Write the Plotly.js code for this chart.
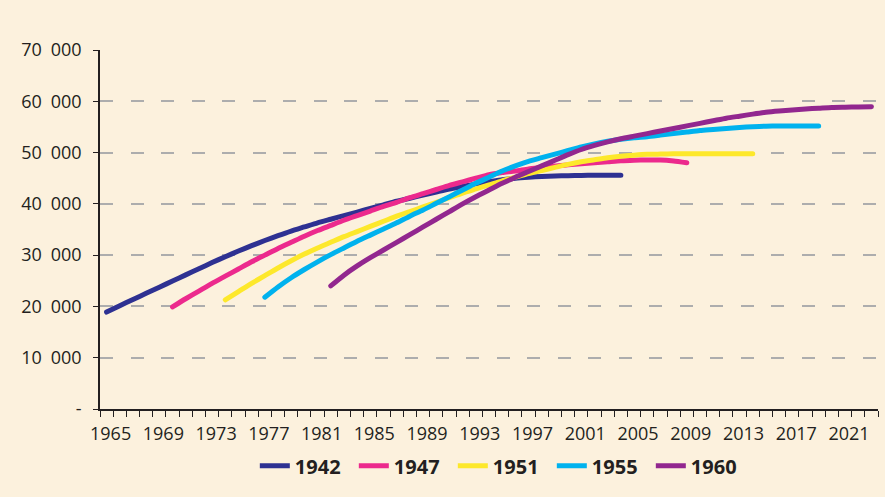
<!DOCTYPE html>
<html>
<head>
<meta charset="utf-8">
<script src="https://cdn.plot.ly/plotly-3.0.1.min.js"></script>
<style>
  html, body { margin: 0; padding: 0; background: #fcf1dd; }
  #chart { width: 885px; height: 497px; }
  .scatterlayer .js-line { stroke-linecap: round; stroke-linejoin: round; }
</style>
</head>
<body>
<div id="chart"></div>
<script>
// Years (categories) 1965..2023
const years = [1965,1966,1967,1968,1969,1970,1971,1972,1973,1974,1975,1976,1977,1978,1979,1980,
  1981,1982,1983,1984,1985,1986,1987,1988,1989,1990,1991,1992,1993,1994,1995,1996,1997,1998,1999,
  2000,2001,2002,2003,2004,2005,2006,2007,2008,2009,2010,2011,2012,2013,2014,2015,2016,2017,2018,
  2019,2020,2021,2022,2023];

const seriesNames = ["1942", "1947", "1951", "1955", "1960"];
const seriesStart = [1965, 1970, 1974, 1977, 1982];

const values1942 = [18900,20150,21350,22550,23750,24950,26150,27350,28550,29700,
  30800,31850,32850,33800,34700,35500,36300,37000,37700,38400,
  39100,39800,40500,41100,41700,42300,42900,43400,43900,44300,
  44700,45000,45200,45350,45450,45500,45550,45600,45600,45600];

const values1947 = [19900,21500,23000,24500,25900,27300,28700,30000,31300,32500,
  33700,34800,35800,36800,37700,38600,39500,40300,41200,42000,
  42800,43600,44300,45000,45700,46100,46400,46800,47100,47400,
  47600,47800,48000,48200,48400,48500,48550,48550,48350,48000];

const values1951 = [21300,22900,24500,26000,27500,28900,30200,31400,32500,33600,
  34600,35600,36600,37600,38500,39400,40300,41200,42100,42900,
  43700,44500,45200,45900,46500,47100,47700,48200,48600,49000,
  49300,49500,49650,49700,49750,49750,49750,49750,49750,49750,49750];

const values1955 = [21800,23800,25600,27200,28700,30100,31400,32700,33900,35100,
  36300,37600,38800,40100,41400,42700,44000,45200,46400,47400,
  48300,49000,49700,50400,51100,51700,52200,52600,52900,53100,
  53400,53700,54000,54300,54500,54700,54900,55050,55150,55200,55200,55200,55200];

const values1960 = [24000,26100,27900,29500,31000,32500,34000,35500,37000,38500,
  40000,41400,42700,44000,45200,46300,47400,48500,49600,50600,
  51400,52100,52700,53200,53700,54200,54700,55200,55700,56200,
  56700,57100,57500,57850,58100,58300,58500,58650,58800,58850,58900,58950];

const seriesValues = [values1942, values1947, values1951, values1955, values1960];
const seriesColors = ["#2e3192", "#ec2a8d", "#fde82b", "#00b2ee", "#92278f"];

const xTickVals = [1965,1969,1973,1977,1981,1985,1989,1993,1997,2001,2005,2009,2013,2017,2021];
const xTickText = ["1965","1969","1973","1977","1981","1985","1989","1993","1997","2001","2005","2009","2013","2017","2021"];
const yTickVals = [0,10000,20000,30000,40000,50000,60000,70000];
const yTickText = ["-","10\u2002000","20\u2002000","30\u2002000","40\u2002000","50\u2002000","60\u2002000","70\u2002000"];

const traces = seriesNames.map((name, i) => {
  const start = years.indexOf(seriesStart[i]);
  return {
    type: "scatter",
    mode: "lines",
    name: name,
    x: years.slice(start, start + seriesValues[i].length),
    y: seriesValues[i],
    line: { color: seriesColors[i], width: 5, shape: "spline", smoothing: 0.6 },
    hoverinfo: "x+y+name"
  };
});

const textColor = "#231f20";
const layout = {
  width: 885,
  height: 497,
  margin: { l: 100, r: 7, t: 50, b: 88 },
  paper_bgcolor: "#fcf1dd",
  plot_bgcolor: "#fcf1dd",
  font: { family: "Open Sans, sans-serif", color: textColor, size: 18 },
  showlegend: true,
  legend: {
    orientation: "h",
    x: 0.199, xanchor: "left",
    y: -0.158, yanchor: "middle",
    entrywidth: 54, entrywidthmode: "pixels",
    font: { family: "Open Sans, sans-serif", size: 20, weight: 700, color: textColor },
    bgcolor: "rgba(0,0,0,0)",
    itemclick: false, itemdoubleclick: false
  },
  xaxis: {
    range: [1964.5, 2023.5],
    tickmode: "array",
    tickvals: xTickVals,
    ticktext: xTickText,
    ticks: "",
    ticklabelshift: 4,
    ticklabelstandoff: 8,
    showgrid: false,
    zeroline: false,
    showline: true,
    linecolor: textColor,
    linewidth: 1.5,
    tickfont: { family: "Open Sans, sans-serif", size: 18, color: textColor },
    minor: {
      tickmode: "linear",
      tick0: 1964.5,
      dtick: 1,
      ticks: "outside",
      ticklen: 6,
      tickwidth: 1.3,
      tickcolor: textColor,
      showgrid: false
    },
    fixedrange: true
  },
  yaxis: {
    range: [0, 70000],
    tickmode: "array",
    tickvals: yTickVals,
    ticktext: yTickText,
    ticks: "outside",
    ticklen: 5,
    tickwidth: 1.3,
    tickcolor: textColor,
    ticklabelstandoff: 8,
    showline: true,
    linecolor: textColor,
    linewidth: 1.5,
    showgrid: true,
    gridcolor: "#adadad",
    gridwidth: 1.8,
    griddash: "13px,17.5px",
    zeroline: false,
    tickfont: { family: "Open Sans, sans-serif", size: 18, color: textColor },
    fixedrange: true
  }
};

Plotly.newPlot("chart", traces, layout, { displayModeBar: false, staticPlot: false });
</script>
</body>
</html>
